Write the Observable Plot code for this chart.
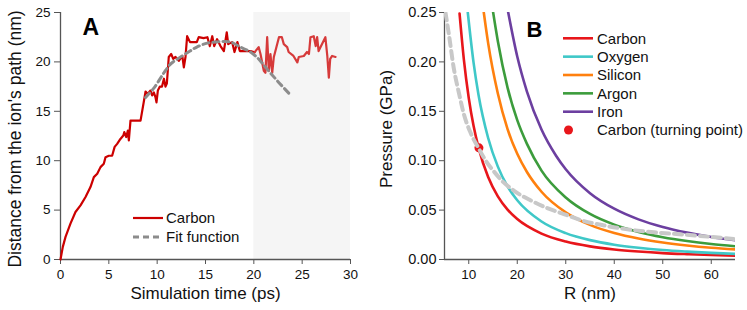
<!DOCTYPE html>
<html><head><meta charset="utf-8">
<script src="https://cdn.jsdelivr.net/npm/d3@7"></script>
<script src="https://cdn.jsdelivr.net/npm/@observablehq/plot@0.6"></script>
<style>
body{margin:0;background:#fff;font-family:"Liberation Sans",Arial,sans-serif;}
#wrap{position:relative;width:747px;height:310px;overflow:hidden;}
#wrap svg{position:absolute;top:0;}
</style></head><body><div id="wrap"></div>
<script>
// ---------- Panel A data ----------
const timeA = [0,0.24,0.52,1.03,1.55,2.07,2.59,3.1,3.45,3.8,4.14,4.48,4.66,5.0,5.34,5.6,5.86,6.2,6.5,6.6,6.8,6.97,7.07,7.24,8.28,8.8,9.03,9.31,9.48,9.66,9.83,9.93,10.07,10.28,10.5,10.7,10.86,11.0,11.2,11.45,11.66,11.9,12.24,12.6,12.76,12.93,13.1,13.4,14.1,14.3,14.8,15.2,15.45,15.7,15.9,16.2,16.55,16.9,17.2,17.35,17.76,18.0,18.3,18.55,19.65,20.07];
const distA = [0,1.28,2.29,3.63,4.81,5.48,6.33,7.33,8.34,8.68,9.35,9.69,10.36,10.5,10.5,11.4,11.7,12.2,12.55,12.9,12.4,13.05,12.05,14.06,14.06,17.0,16.75,17.1,16.6,16.9,16.4,15.9,17.1,17.5,17.5,18.3,17.5,17.8,20.5,20.8,20.3,20.5,20.1,20.6,19.45,20.5,22.6,22.0,22.0,22.5,22.4,22.5,21.6,22.6,21.6,22.3,21.6,21.1,23.0,21.8,22.0,21.0,22.0,21.1,21.1,20.96];
const timeB = [20.07,20.5,20.69,21.03,21.2,21.38,21.55,21.72,21.9,22.07,22.6,22.9,23.1,23.45,23.6,24.1,24.5,24.65,25.17,25.5,25.7,25.86,26.2,26.4,26.55,26.7,27.4,27.6,27.76,27.9,28.1,28.45];
const distB = [20.96,21.5,20.8,19.1,18.9,22.5,19.1,20.8,18.9,20.5,22.5,22.5,21.8,21.5,21.0,20.6,19.95,20.5,20.6,21.0,20.8,22.5,22.6,21.6,22.5,21.1,22.5,20.6,18.4,20.3,20.6,20.5];
const fitT = [8.8,9.7,10.7,11.4,12.1,13.4,14.1,15.2,16.5,17.6,18.6,19.65,20.5,21.0,21.7,22.6,23.7];
const fitD = [16.4,17.4,18.9,19.8,20.3,21.1,21.5,21.9,22.05,22.0,21.5,21.0,20.3,19.7,18.9,17.9,16.75];
const xTicksA = [0,5,10,15,20,25,30];
const yTicksA = [0,5,10,15,20,25];
const shadeA = [{x1:20,x2:30,y1:0,y2:25}];
const legendA = ["Carbon","Fit function"];

// ---------- Panel B data ----------
const elements = ["Carbon","Oxygen","Silicon","Argon","Iron"];
const colors = ["#e8161b","#3fc8c8","#ff800e","#3c9c3c","#6c3fa0"];
const rCarbon = [8.1,9,10,11,12,14,16,18,20,25,30,35,40,45,50,55,60,65];
const pCarbon = [0.249,0.202,0.1635,0.135,0.1135,0.0834,0.0639,0.0505,0.0409,0.0262,0.0182,0.0133,0.0102,0.0081,0.0065,0.0054,0.0045,0.0039];
const rOxygen = [9.8,11,12,14,16,18,20,25,30,35,40,45,50,55,60,65];
const pOxygen = [0.250,0.199,0.167,0.123,0.094,0.074,0.060,0.0385,0.0267,0.0196,0.0150,0.0119,0.0096,0.0080,0.0067,0.0057];
const rSilicon = [13.1,14,16,18,20,22,25,30,35,40,45,50,55,60,65];
const pSilicon = [0.250,0.219,0.168,0.132,0.107,0.0886,0.0686,0.0477,0.035,0.0268,0.0212,0.0172,0.0142,0.0119,0.0102];
const rArgon = [15,16,18,20,22,25,30,35,40,45,50,55,60,65];
const pArgon = [0.251,0.221,0.174,0.141,0.117,0.090,0.0628,0.0461,0.0353,0.0279,0.0226,0.0187,0.0157,0.0134];
const rIron = [18.1,20,22,25,28,30,35,40,45,50,55,60,65];
const pIron = [0.251,0.2055,0.170,0.1315,0.105,0.0913,0.0671,0.0514,0.0406,0.0329,0.0272,0.0228,0.0195];
const rTurn = [5.2,5.9,6.9,8.0,9.0,10.4,12.1,13.5,15.2,17.2,19.5,22.7,26.2,29.6,33.0,37.9,42.7,48.2,55.0,65.0];
const pTurn = [0.250,0.228,0.194,0.168,0.147,0.128,0.112,0.100,0.089,0.078,0.069,0.060,0.052,0.046,0.040,0.0345,0.0305,0.0275,0.025,0.0205];
const turnPoint = [{R:12.1, P:0.113}];
const xTicksB = [10,20,30,40,50,60];
const yTicksB = [0,0.05,0.10,0.15,0.20,0.25];
const legendB = ["Carbon","Oxygen","Silicon","Argon","Iron","Carbon (turning point)"];

const zip = (xs, ys, kx, ky) => xs.map((v,i)=>({[kx]:v,[ky]:ys[i]}));
const font = "Liberation Sans, Arial, sans-serif";
const axisColor = "#555";

const carbonA = zip(timeA, distA, "t", "d");
const carbonA2 = zip(timeB, distB, "t", "d");
const fitA = zip(fitT, fitD, "t", "d");

const plotA = Plot.plot({
  width: 370, height: 310, marginLeft: 60, marginRight: 20, marginTop: 12, marginBottom: 51,
  style: {fontFamily: font, fontSize: "13px", color: "#111", background: "transparent", overflow: "visible"},
  x: {domain: [0, 30], label: null},
  y: {domain: [0, 25], label: null},
  marks: [
    Plot.rect(shadeA, {x1: "x1", x2: "x2", y1: "y1", y2: "y2", fill: "#f5f5f5"}),
    Plot.ruleX([0], {stroke: axisColor, strokeWidth: 1.3}),
    Plot.ruleY([0], {stroke: axisColor, strokeWidth: 1.3}),
    Plot.axisX({ticks: xTicksA, tickSize: 5, tickPadding: 5, stroke: axisColor, fontSize: 13.5, label: null}),
    Plot.axisY({ticks: yTicksA, tickSize: 6, tickPadding: 4, stroke: axisColor, fontSize: 13.5, label: null}),
    Plot.line(carbonA, {x: "t", y: "d", stroke: "#cc0000", strokeWidth: 2.2}),
    Plot.line(carbonA2, {x: "t", y: "d", stroke: "#d63a3a", strokeWidth: 2.2}),
    Plot.line(fitA, {x: "t", y: "d", stroke: "#8c8c8c", strokeWidth: 3, strokeDasharray: "6,4", curve: "catmull-rom"}),
    Plot.text(["A"], {frameAnchor: "top-left", dx: 22, dy: 6, lineAnchor: "top", fontSize: 23, fontWeight: "bold", fill: "#000"}),
    Plot.text(["Simulation time (ps)"], {frameAnchor: "bottom", dy: 34, lineAnchor: "middle", fontSize: 17, fill: "#111"}),
    Plot.text(["Distance from the ion's path (nm)"], {frameAnchor: "left", dx: -45, dy: 3, rotate: -90, textAnchor: "middle", lineAnchor: "middle", fontSize: 17.5, fill: "#111"})
  ]
});
plotA.style.left = "0px";

const seriesB = [
  zip(rCarbon, pCarbon, "R", "P"),
  zip(rOxygen, pOxygen, "R", "P"),
  zip(rSilicon, pSilicon, "R", "P"),
  zip(rArgon, pArgon, "R", "P"),
  zip(rIron, pIron, "R", "P")
];
const turnB = zip(rTurn, pTurn, "R", "P");

const plotB = Plot.plot({
  width: 377, height: 310, marginLeft: 74, marginRight: 12, marginTop: 12, marginBottom: 51,
  style: {fontFamily: font, fontSize: "13px", color: "#111", background: "transparent", overflow: "visible"},
  x: {domain: [5, 65], label: null},
  y: {domain: [0, 0.25], label: null},
  marks: [
    Plot.ruleX([5], {stroke: axisColor, strokeWidth: 1.3}),
    Plot.ruleY([0], {stroke: axisColor, strokeWidth: 1.3}),
    Plot.axisX({ticks: xTicksB, tickSize: 5, tickPadding: 5, stroke: axisColor, fontSize: 13.5, label: null}),
    Plot.axisY({ticks: yTicksB, tickSize: 5, tickPadding: 3, stroke: axisColor, fontSize: 14.5, tickFormat: d3.format(".2f"), label: null}),
    ...seriesB.map((s, i) => Plot.line(s, {x: "R", y: "P", stroke: colors[i], strokeWidth: 2.6, curve: "monotone-x", clip: true})),
    Plot.dot(turnPoint, {x: "R", y: "P", r: 4.5, fill: colors[0]}),
    Plot.line(turnB, {x: "R", y: "P", stroke: "#c8c8c8", strokeWidth: 4, strokeDasharray: "8,5", curve: "monotone-x", clip: true}),
    Plot.text(["B"], {frameAnchor: "top-left", dx: 82, dy: 9, lineAnchor: "top", fontSize: 22, fontWeight: "bold", fill: "#000"}),
    Plot.text(["R (nm)"], {frameAnchor: "bottom", dy: 34, lineAnchor: "middle", fontSize: 17, fill: "#111"}),
    Plot.text(["Pressure (GPa)"], {frameAnchor: "left", dx: -58, dy: -7, rotate: -90, textAnchor: "middle", lineAnchor: "middle", fontSize: 17, fill: "#111"})
  ]
});
plotB.style.left = "370px";

const wrap = document.getElementById("wrap");
wrap.appendChild(plotA);
wrap.appendChild(plotB);

// legends (overlay SVG)
const svg = d3.select(wrap).append("svg")
  .attr("width", 747).attr("height", 310)
  .style("left", "0px").style("pointer-events", "none")
  .style("font-family", font).style("font-size", "15px");

// legend A
const styleA = [{stroke: "#cc0000", w: 2.2, dash: null}, {stroke: "#8c8c8c", w: 3, dash: "6,4"}];
legendA.forEach((name, i) => {
  const y = 218 + i * 19;
  svg.append("line").attr("x1", 133).attr("x2", 163).attr("y1", y).attr("y2", y)
    .attr("stroke", styleA[i].stroke).attr("stroke-width", styleA[i].w)
    .attr("stroke-dasharray", styleA[i].dash);
  svg.append("text").attr("x", 166).attr("y", y).attr("dy", "0.35em").attr("fill", "#111").text(name);
});

// legend B
legendB.forEach((name, i) => {
  const y = 38.3 + i * 18.35;
  if (i < elements.length) {
    svg.append("line").attr("x1", 563).attr("x2", 593).attr("y1", y).attr("y2", y)
      .attr("stroke", colors[i]).attr("stroke-width", 2.6);
  } else {
    svg.append("circle").attr("cx", 568.5).attr("cy", y).attr("r", 4.5).attr("fill", colors[0]);
  }
  svg.append("text").attr("x", 597).attr("y", y).attr("dy", "0.35em").attr("fill", "#111").text(name);
});
</script></body></html>
